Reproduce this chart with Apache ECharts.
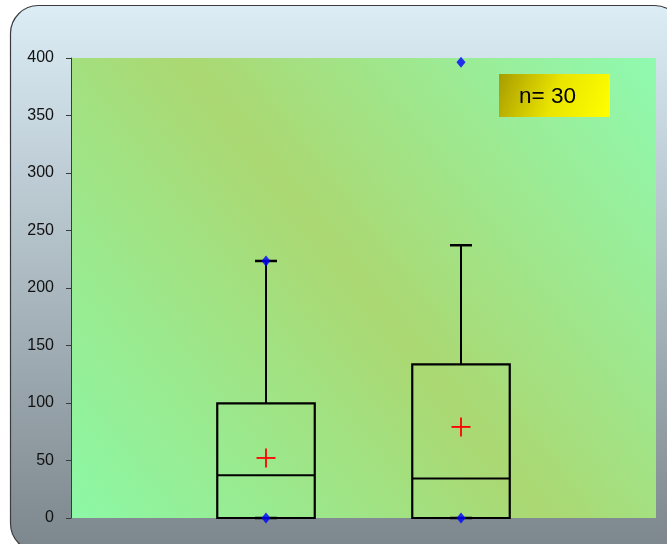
<!DOCTYPE html>
<html>
<head>
<meta charset="utf-8">
<script src="https://cdn.jsdelivr.net/npm/echarts@6/dist/echarts.min.js"></script>
<style>
  html, body { margin: 0; padding: 0; background: #ffffff; }
  #chart { width: 667px; height: 544px; }
</style>
</head>
<body>
<div id="chart"></div>
<script>
// Two groups on a 0..3 position scale
const positions = [1, 2];
const lowWhisker = [0, 0];
const q1 = [0, 0];
const median = [37.2, 34.3];
const q3 = [99.6, 133.6];
const highWhisker = [223.5, 237.2];
const means = [52.2, 79.2];

// Individual points (minimum / maximum / outliers)
const pointX = [1, 1, 2, 2];
const pointY = [0, 223.5, 0, 396.2];

// Y axis ticks
const yTicks = [0, 50, 100, 150, 200, 250, 300, 350, 400];
const sampleLabel = 'n= 30';

const boxData = positions.map((p, i) => [p, lowWhisker[i], q1[i], median[i], q3[i], highWhisker[i], means[i]]);
const pointData = pointX.map((x, i) => [x, pointY[i]]);

const chart = echarts.init(document.getElementById('chart'), null, { renderer: 'canvas' });

function renderBox(params, api) {
  const x = api.value(0);
  const half = api.size([0.5, 0])[0] / 2;
  const capHalf = 11;
  const pLow = api.coord([x, api.value(1)]);
  const pQ1 = api.coord([x, api.value(2)]);
  const pMed = api.coord([x, api.value(3)]);
  const pQ3 = api.coord([x, api.value(4)]);
  const pHigh = api.coord([x, api.value(5)]);
  const pMean = api.coord([x, api.value(6)]);
  const cx = pQ1[0];
  const line = { stroke: '#000000', lineWidth: 2 };
  const cap = { stroke: '#000000', lineWidth: 2.5 };
  const red = { stroke: '#ff0000', lineWidth: 1.8 };
  return {
    type: 'group',
    children: [
      { type: 'line', shape: { x1: cx, y1: pQ3[1], x2: cx, y2: pHigh[1] }, style: line },
      { type: 'line', shape: { x1: cx, y1: pQ1[1], x2: cx, y2: pLow[1] }, style: line },
      { type: 'line', shape: { x1: cx - capHalf, y1: pHigh[1], x2: cx + capHalf, y2: pHigh[1] }, style: cap },
      { type: 'line', shape: { x1: cx - capHalf, y1: pLow[1], x2: cx + capHalf, y2: pLow[1] }, style: cap },
      { type: 'rect', shape: { x: cx - half, y: pQ3[1], width: half * 2, height: pQ1[1] - pQ3[1] },
        style: { fill: 'none', stroke: '#000000', lineWidth: 2.2 } },
      { type: 'line', shape: { x1: cx - half, y1: pMed[1], x2: cx + half, y2: pMed[1] }, style: line },
      { type: 'line', shape: { x1: cx - 9.5, y1: pMean[1], x2: cx + 9.5, y2: pMean[1] }, style: red },
      { type: 'line', shape: { x1: cx, y1: pMean[1] - 9.5, x2: cx, y2: pMean[1] + 9.5 }, style: red }
    ]
  };
}

const option = {
  animation: false,
  graphic: [
    {
      type: 'rect', z: -10, silent: true,
      shape: { x: 10.5, y: 5.5, width: 672, height: 546, r: 28 },
      style: {
        fill: new echarts.graphic.LinearGradient(0, 0, 0, 1, [
          { offset: 0, color: '#dcedf6' },
          { offset: 1, color: '#7c868c' }
        ]),
        stroke: '#3c3c3c', lineWidth: 1.2
      }
    },
    {
      type: 'group', z: 100,
      children: [
        {
          type: 'rect', shape: { x: 499, y: 74, width: 111, height: 43 },
          style: {
            fill: new echarts.graphic.LinearGradient(0, 0, 1, 1, [
              { offset: 0, color: '#a89c00' },
              { offset: 0.5, color: '#eae400' },
              { offset: 1, color: '#ffff00' }
            ])
          }
        },
        {
          type: 'text', x: 519, y: 97,
          style: { text: sampleLabel, fill: '#000000', font: '22.5px "Liberation Sans", Arial, sans-serif', verticalAlign: 'middle' }
        }
      ]
    }
  ],
  grid: {
    left: 71, top: 58, right: 11, bottom: 26,
    show: true, borderWidth: 0,
    backgroundColor: new echarts.graphic.LinearGradient(0, 1, 1, 0, [
      { offset: 0, color: '#8cf8a6' },
      { offset: 0.5, color: '#abd872' },
      { offset: 1, color: '#8ffab0' }
    ])
  },
  xAxis: {
    type: 'value', min: 0, max: 3, show: false
  },
  yAxis: {
    type: 'value', min: yTicks[0], max: yTicks[yTicks.length - 1], interval: 50,
    axisLine: { show: true, lineStyle: { color: '#3a3a3a', width: 1 } },
    axisTick: { show: true, length: 5, lineStyle: { color: '#3a3a3a', width: 1 } },
    splitLine: { show: false },
    axisLabel: { color: '#111111', fontSize: 16, fontFamily: '"Liberation Sans", Arial, sans-serif', margin: 17 }
  },
  series: [
    {
      type: 'custom', renderItem: renderBox, data: boxData,
      encode: { x: 0, y: [1, 2, 3, 4, 5, 6] }, z: 5
    },
    {
      type: 'scatter', data: pointData, symbol: 'diamond', symbolSize: [9, 11],
      itemStyle: { color: '#0000ff' }, z: 10
    }
  ]
};
chart.setOption(option);
</script>
</body>
</html>
